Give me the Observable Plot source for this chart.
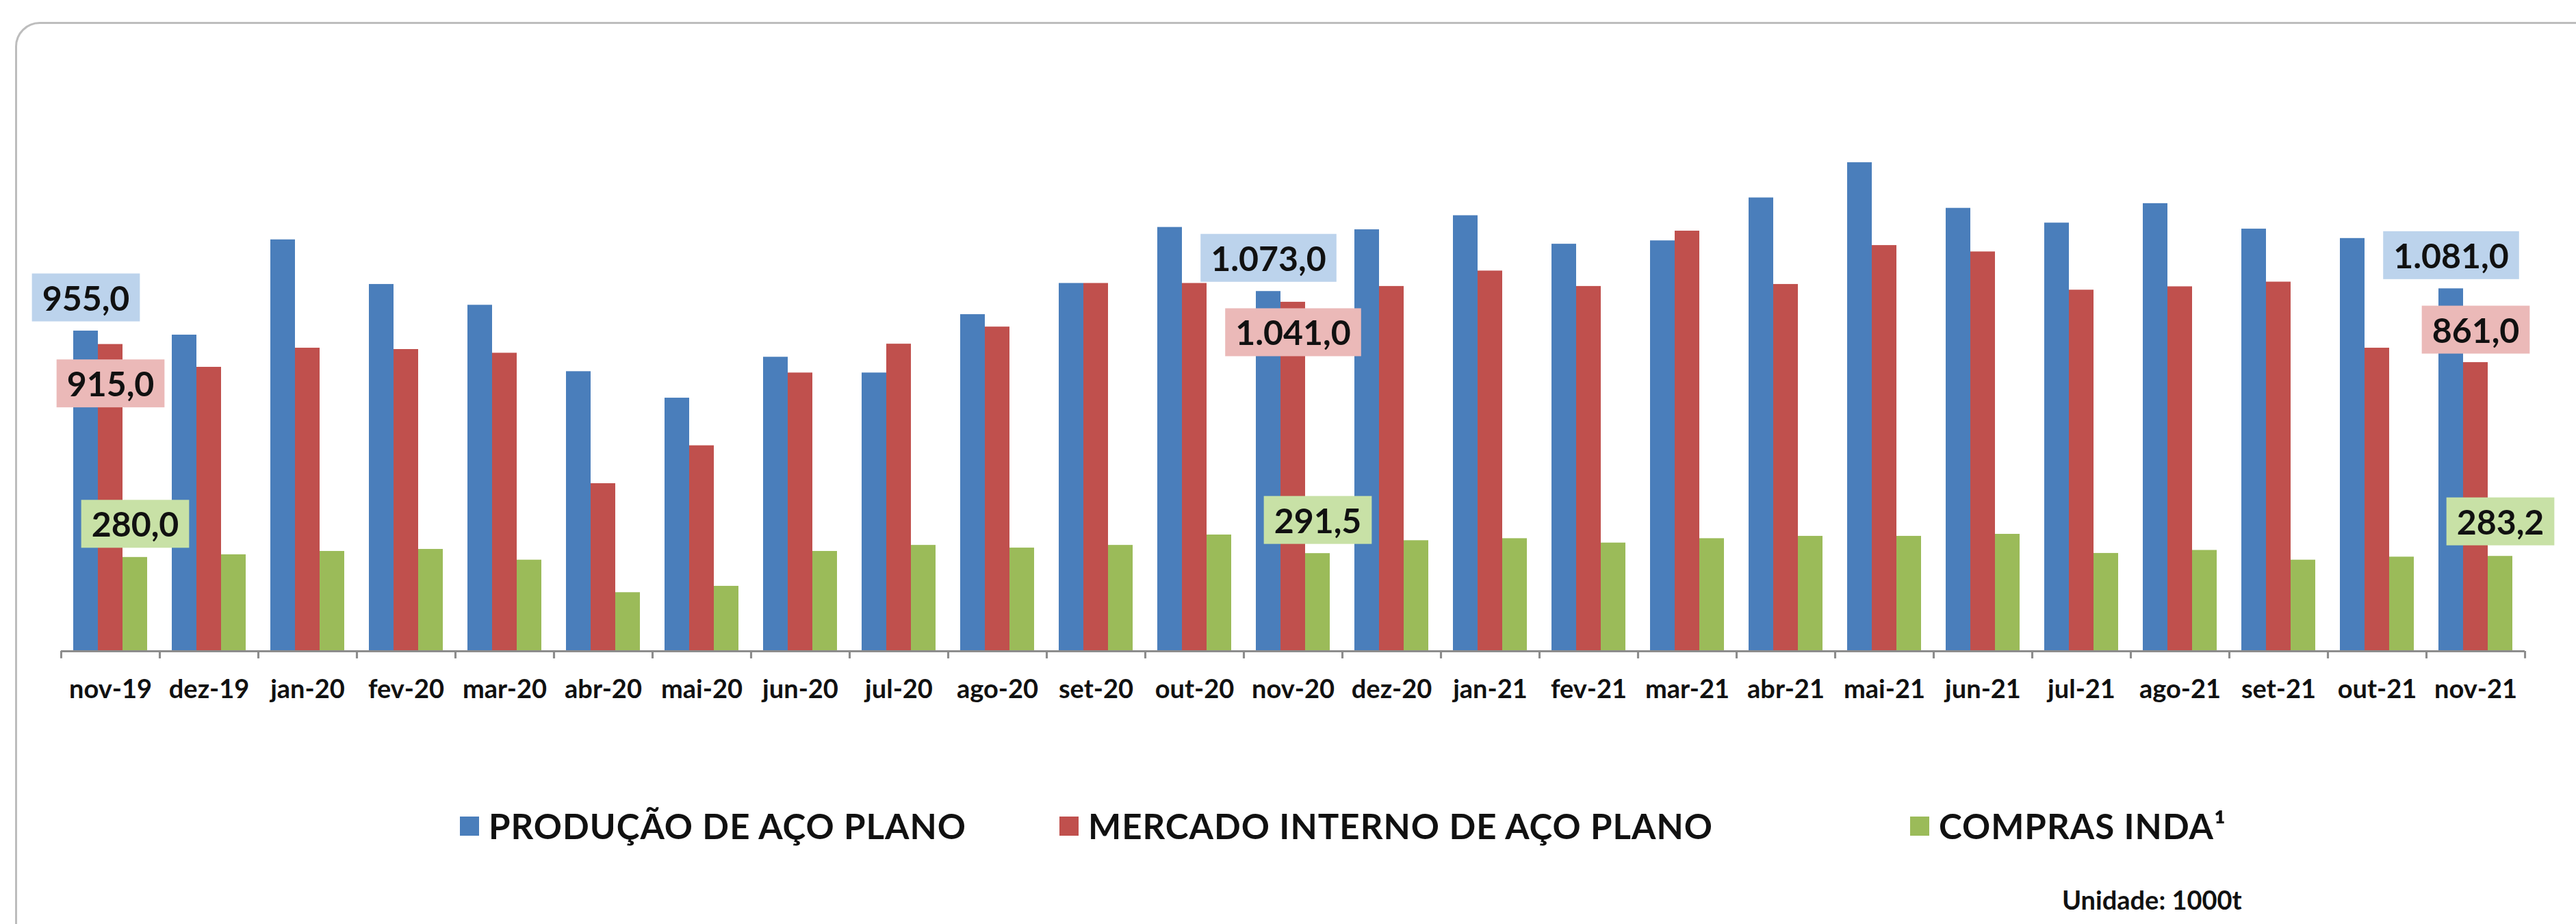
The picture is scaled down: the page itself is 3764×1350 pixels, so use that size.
<!DOCTYPE html>
<html>
<head>
<meta charset="utf-8">
<script src="https://cdn.jsdelivr.net/npm/d3@7"></script>
<script src="https://cdn.jsdelivr.net/npm/@observablehq/plot@0.6"></script>
<style>
  html, body { margin: 0; padding: 0; background: #fff; width: 3764px; height: 1350px; overflow: hidden; font-family: Lato, "Open Sans", sans-serif; }
  #card { position: absolute; left: 22px; top: 32px; width: 3800px; height: 1400px; border: 3px solid #bdbdbd; border-radius: 36px; box-sizing: border-box; }
  #chart { position: absolute; left: 0; top: 0; }
  .item { position: absolute; top: 1180px; display: flex; align-items: center; font-weight: 700; font-size: 51px; letter-spacing: 1px; line-height: 54px; color: #111; white-space: nowrap; }
  .sw { width: 28px; height: 28px; margin-right: 14px; }
  #unit { position: absolute; left: 3013px; top: 1291px; font-weight: 700; font-size: 38px; color: #111; }
</style>
</head>
<body>
<div id="card"></div>
<div id="chart"></div>
<div id="legend"></div>
<div id="unit"></div>
<script>
// ---- data ----
const months = ["nov-19","dez-19","jan-20","fev-20","mar-20","abr-20","mai-20","jun-20","jul-20","ago-20","set-20","out-20","nov-20","dez-20","jan-21","fev-21","mar-21","abr-21","mai-21","jun-21","jul-21","ago-21","set-21","out-21","nov-21"];
const series = ["PRODUÇÃO DE AÇO PLANO", "MERCADO INTERNO DE AÇO PLANO", "COMPRAS INDA¹"];
const producao = [955,943,1227,1094,1032,834,755,877,830,1004,1097,1264,1073,1257,1299,1214,1224,1352,1457,1321,1277,1335,1259,1231,1081];
const mercado  = [915,847,904,900,889,500,613,830,916,967,1097,1097,1041,1088,1134,1088,1253,1094,1210,1191,1077,1087,1101,904,861];
const compras  = [280,288,298,304,272,175,194,298,316,308,316,347,291.5,330,336,323,336,343,343,349,292,301,272,281,283.2];
const labelMonths = ["nov-19","nov-20","nov-21"];
const unitText = "Unidade: 1000t";

// ---- styles ----
const colors = ["#4A7EBB", "#C0504D", "#9BBB59"];
const labelFills = ["#BCD3EC", "#EBB9B8", "#C8E1A6"];
const axisStroke = "#8c8c8c";

const values = [producao, mercado, compras];
const rows = months.flatMap((m, i) => series.map((s, j) => ({month: m, series: s, value: values[j][i]})));

const ptBR = d3.formatLocale({decimal: ",", thousands: ".", grouping: [3], currency: ["R$", ""]});
const fmt = ptBR.format(",.1f");

const W = 3764, H = 1060, mL = 87, mR = 74, mT = 69, mB = H - 951;
const facetW = (W - mL - mR) / months.length;

const label = (m, j, dy) => Plot.text(
  rows.filter(d => d.month === m && d.series === series[j]),
  {fx: "month", x: "series", y: "value", text: d => fmt(d.value), dy,
   fontSize: 50, fontWeight: 700, fill: "#111"}
);

const plot = Plot.plot({
  width: W, height: H,
  marginLeft: mL, marginRight: mR, marginTop: mT, marginBottom: mB,
  fx: {domain: months, padding: 0, label: null},
  x: {domain: series, paddingInner: 0, paddingOuter: 0.5, axis: null},
  y: {domain: [0, 1800], axis: null},
  color: {domain: series, range: colors},
  style: {fontFamily: "Lato, 'Open Sans', sans-serif", background: "transparent", overflow: "visible"},
  marks: [
    Plot.ruleX(months, {fx: d => d, x: () => series[1], y1: 0, y2: -22, dx: -facetW / 2, stroke: axisStroke, strokeWidth: 3}),
    Plot.ruleX(months, {fx: d => d, x: () => series[1], y1: 0, y2: -22, dx: facetW / 2, stroke: axisStroke, strokeWidth: 3}),
    Plot.barY(rows, {fx: "month", x: "series", y: "value", fill: "series"}),
    Plot.ruleY([0], {stroke: axisStroke, strokeWidth: 3}),
    Plot.axisFx({anchor: "bottom", tickSize: 0, tickPadding: 42, fontSize: 38, fontWeight: 700, fill: "#111", label: null}),
    label("nov-19", 0, -46), label("nov-19", 1, 60), label("nov-19", 2, -46),
    label("nov-20", 0, -46), label("nov-20", 1, 47), label("nov-20", 2, -46),
    label("nov-21", 0, -46), label("nov-21", 1, -45), label("nov-21", 2, -48)
  ]
});
document.getElementById("chart").append(plot);

// label background boxes
const fillByText = new Map();
labelMonths.forEach(m => {
  const i = months.indexOf(m);
  values.forEach((v, j) => fillByText.set(fmt(v[i]), labelFills[j]));
});
plot.querySelectorAll("text").forEach(t => {
  const f = fillByText.get(t.textContent);
  if (!f) return;
  const b = t.getBBox();
  const r = document.createElementNS("http://www.w3.org/2000/svg", "rect");
  r.setAttribute("x", b.x - 15);
  r.setAttribute("y", b.y - 5);
  r.setAttribute("width", b.width + 30);
  r.setAttribute("height", b.height + 10);
  r.setAttribute("fill", f);
  const tr = t.getAttribute("transform");
  if (tr) r.setAttribute("transform", tr);
  t.parentNode.insertBefore(r, t);
});

// legend
const legendLeft = [672, 1548, 2791];
const legend = document.getElementById("legend");
series.forEach((s, j) => {
  const it = document.createElement("div");
  it.className = "item";
  it.style.left = legendLeft[j] + "px";
  const sw = document.createElement("span");
  sw.className = "sw";
  sw.style.background = colors[j];
  const tx = document.createElement("span");
  tx.textContent = s;
  it.append(sw, tx);
  legend.append(it);
});
document.getElementById("unit").textContent = unitText;
</script>
</body>
</html>
